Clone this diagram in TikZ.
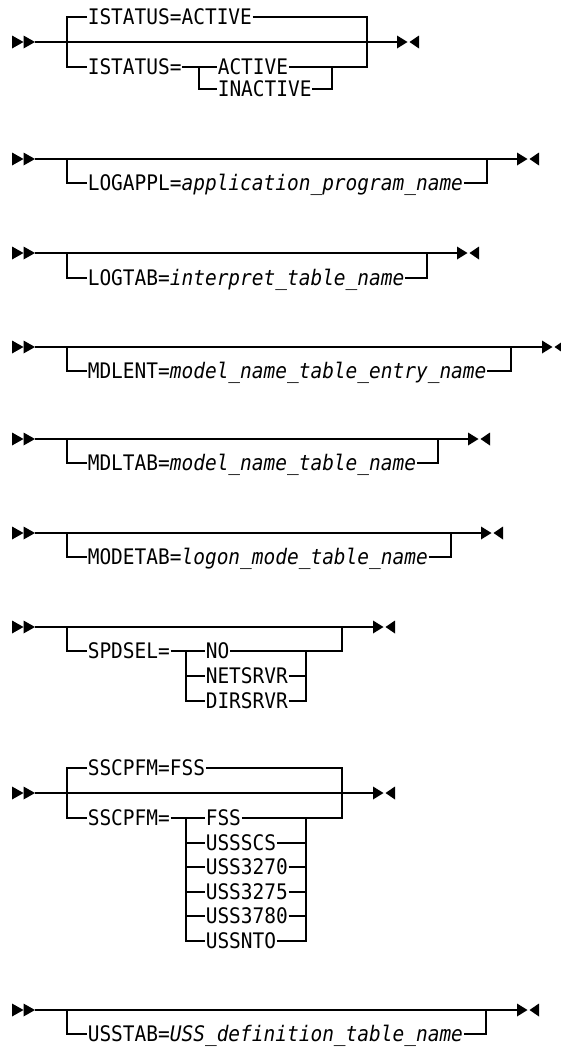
\documentclass[tikz,border=0pt]{standalone}
\usepackage{fontspec}
\setmonofont[FakeStretch=0.91]{DejaVu Sans Mono}
\tikzset{
  rr/.style={line width=1.2pt},
  txt/.style={anchor=west, inner xsep=0.6pt, inner ysep=0pt, text height=15.6pt, text depth=0pt,
    font=\ttfamily\fontsize{21.4}{22}\selectfont},
  startarr/.pic={\fill (-23,-6.5) -- (-11.5,0) -- (-23,6.5) -- cycle;
                 \fill (-11.5,-6.5) -- (0,0) -- (-11.5,6.5) -- cycle;},
  endarr/.pic={\fill (0,-6.5) -- (10.5,0) -- (0,6.5) -- cycle;
               \fill (22,-6.5) -- (12.5,0) -- (22,6.5) -- cycle;}
}
% #1 id, #2 main y, #3 branch y, #4 right vertical x, #5 end arrow x, #6 text
\newcommand\rrsimple[6]{%
  \coordinate (#1s) at (35,#2);
  \coordinate (#1e) at (#5,#2);
  \coordinate (#1l) at (67,#2);
  \coordinate (#1r) at (#4,#2);
  \node[txt] (#1t) at (87,#3) {#6};
  \draw[rr] (#1s) -- (#1e);
  \draw[rr] (#1l) |- (#1t.west);
  \draw[rr] (#1t.east) -| (#1r);
  \pic at (#1s) {startarr};
  \pic at (#1e) {endarr};
}
\begin{document}
\begin{tikzpicture}[x=1pt,y=-1pt]
\useasboundingbox (0,0) rectangle (560,1047);

% ---------- ISTATUS ----------
\coordinate (s1) at (35,42);
\coordinate (e1) at (397,42);
\coordinate (l1) at (67,42);
\coordinate (r1) at (367,42);
\coordinate (il1) at (199,67);
\coordinate (ir1) at (332,67);
\node[txt] (a1) at (87,17) {ISTATUS=ACTIVE};
\node[txt] (b1) at (87,67) {ISTATUS=};
\node[txt] (c1) at (217,67) {ACTIVE};
\node[txt] (d1) at (217,89) {INACTIVE};
\draw[rr] (s1) -- (e1);
\draw[rr] (a1.west) -| (l1) |- (b1.west);
\draw[rr] (a1.east) -| (r1);
\draw[rr] (c1.east) -| (r1);
\draw[rr] (b1.east) -- (c1.west);
\draw[rr] (il1) |- (d1.west);
\draw[rr] (d1.east) -| (ir1);
\pic at (s1) {startarr};
\pic at (e1) {endarr};

% ---------- simple optional ones ----------
\rrsimple{g2}{159}{183}{487}{517}{LOGAPPL=\textit{application\_program\_name}}
\rrsimple{g3}{253}{278}{427}{457}{LOGTAB=\textit{interpret\_table\_name}}
\rrsimple{g4}{347}{371}{511}{542}{MDLENT=\textit{model\_name\_table\_entry\_name}}
\rrsimple{g5}{439}{463}{438}{468}{MDLTAB=\textit{model\_name\_table\_name}}
\rrsimple{g6}{533}{557}{451}{481}{MODETAB=\textit{logon\_mode\_table\_name}}
\rrsimple{g9}{1010}{1034}{486}{517}{USSTAB=\textit{USS\_definition\_table\_name}}

% ---------- SPDSEL ----------
\coordinate (s7) at (35,627);
\coordinate (e7) at (373,627);
\coordinate (l7) at (67,627);
\coordinate (r7) at (342,627);
\coordinate (il7) at (186,651);
\coordinate (ir7) at (306,651);
\node[txt] (a7) at (87,651) {SPDSEL=};
\node[txt] (b7) at (205,651) {NO};
\node[txt] (c7) at (205,676) {NETSRVR};
\node[txt] (d7) at (205,701) {DIRSRVR};
\draw[rr] (s7) -- (e7);
\draw[rr] (l7) |- (a7.west);
\draw[rr] (a7.east) -- (b7.west);
\draw[rr] (b7.east) -| (r7);
\draw[rr] (il7) |- (c7.west);
\draw[rr] (il7) |- (d7.west);
\draw[rr] (c7.east) -| (ir7);
\draw[rr] (d7.east) -| (ir7);
\pic at (s7) {startarr};
\pic at (e7) {endarr};

% ---------- SSCPFM ----------
\coordinate (s8) at (35,793);
\coordinate (e8) at (373,793);
\coordinate (l8) at (67,793);
\coordinate (r8) at (342,793);
\coordinate (il8) at (186,818);
\coordinate (ir8) at (306,818);
\node[txt] (a8) at (87,768) {SSCPFM=FSS};
\node[txt] (b8) at (87,818) {SSCPFM=};
\node[txt] (c8) at (205,818) {FSS};
\node[txt] (d8) at (205,843) {USSSCS};
\node[txt] (f8) at (205,867) {USS3270};
\node[txt] (g8) at (205,892) {USS3275};
\node[txt] (h8) at (205,916) {USS3780};
\node[txt] (k8) at (205,941) {USSNTO};
\draw[rr] (s8) -- (e8);
\draw[rr] (a8.west) -| (l8) |- (b8.west);
\draw[rr] (a8.east) -| (r8);
\draw[rr] (c8.east) -| (r8);
\draw[rr] (b8.east) -- (c8.west);
\foreach \n in {d8,f8,g8,h8,k8}{
  \draw[rr] (il8) |- (\n.west);
  \draw[rr] (\n.east) -| (ir8);
}
\pic at (s8) {startarr};
\pic at (e8) {endarr};
\end{tikzpicture}
\end{document}
